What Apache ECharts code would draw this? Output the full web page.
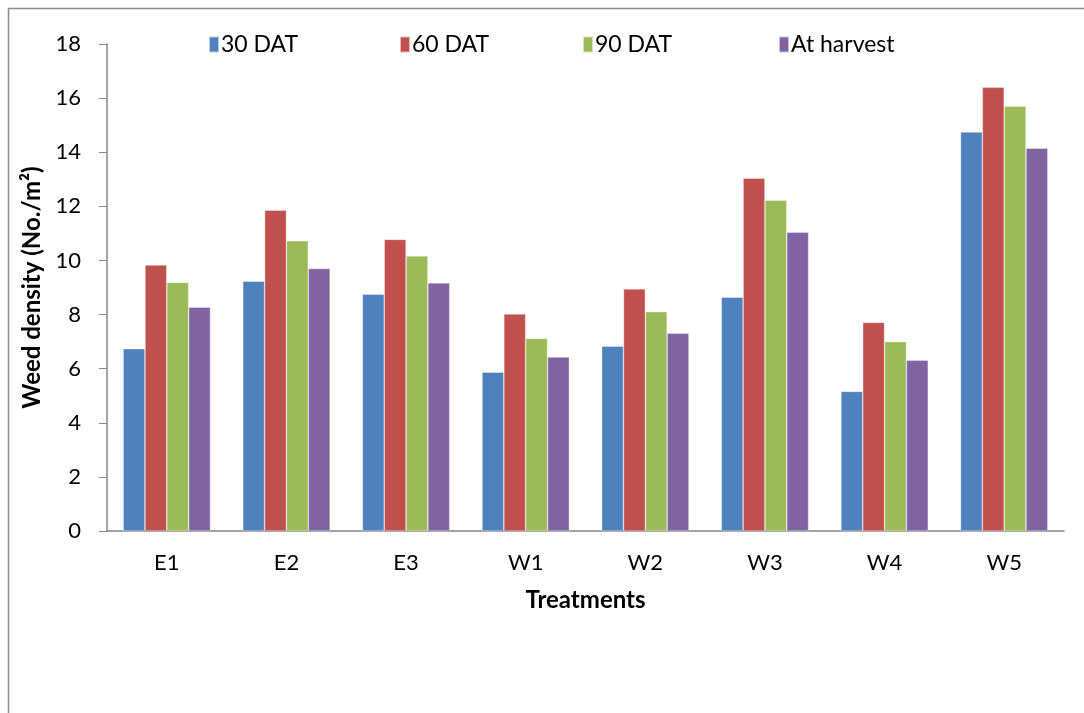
<!DOCTYPE html>
<html>
<head>
<meta charset="utf-8">
<script src="https://cdn.jsdelivr.net/npm/echarts@6/dist/echarts.min.js"></script>
<style>
  html, body { margin: 0; padding: 0; background: #fff; }
  #chart { width: 1084px; height: 713px; }
</style>
</head>
<body>
<div id="chart"></div>
<script>
// Weed density per treatment at four sampling times
const treatments = ['E1', 'E2', 'E3', 'W1', 'W2', 'W3', 'W4', 'W5'];
const dat30   = [6.74, 9.23, 8.75, 5.87, 6.83, 8.64, 5.16, 14.75];
const dat60   = [9.83, 11.86, 10.78, 8.02, 8.95, 13.04, 7.71, 16.40];
const dat90   = [9.19, 10.73, 10.17, 7.12, 8.11, 12.23, 7.00, 15.70];
const harvest = [8.27, 9.70, 9.17, 6.43, 7.31, 11.04, 6.31, 14.15];

const seriesNames = ['30 DAT', '60 DAT', '90 DAT', 'At harvest'];
const seriesValues = [dat30, dat60, dat90, harvest];
const colors = ['#4f81bd', '#c0504d', '#9bbb59', '#8064a2'];
const legendLeft = [208, 399, 582, 778];

const FONT = 'Lato';

const chart = echarts.init(document.getElementById('chart'), null, { renderer: 'canvas' });

chart.setOption({
  animation: false,
  backgroundColor: '#fff',
  color: colors,
  textStyle: { fontFamily: FONT },
  graphic: [{
    type: 'polyline',
    silent: true,
    shape: { points: [[8.5, 713], [8.5, 8.5], [1084, 8.5]] },
    style: { stroke: '#8c8c8c', lineWidth: 1.5, fill: null }
  }],
  legend: seriesNames.map((n, i) => ({
    data: [n],
    left: legendLeft[i],
    top: 33,
    itemWidth: 10,
    itemHeight: 16,
    itemGap: 0,
    padding: 0,
    selectedMode: false,
    icon: 'rect',
    textStyle: { fontFamily: FONT, fontSize: 23, color: '#000', padding: [0, 0, 0, -3] }
  })),
  grid: { left: 107, right: 20, top: 44, bottom: 182, containLabel: false },
  xAxis: {
    type: 'category',
    data: treatments,
    name: 'Treatments',
    nameLocation: 'middle',
    nameGap: 57,
    nameTextStyle: { fontFamily: FONT, fontSize: 24, fontWeight: 'bold', color: '#000' },
    axisLine: { lineStyle: { color: '#868686', width: 1.5 } },
    axisTick: { show: false },
    axisLabel: { fontFamily: FONT, fontSize: 22, color: '#000', margin: 21 }
  },
  yAxis: {
    type: 'value',
    min: 0,
    max: 18,
    interval: 2,
    name: 'Weed density (No./m\u00b2)',
    nameLocation: 'middle',
    nameGap: 59,
    nameRotate: 90,
    nameTextStyle: { fontFamily: FONT, fontSize: 24, fontWeight: 'bold', color: '#000' },
    splitLine: { show: false },
    axisLine: { show: true, lineStyle: { color: '#868686', width: 1.5 } },
    axisTick: { show: true, length: 8, lineStyle: { color: '#868686' } },
    axisLabel: { fontFamily: FONT, fontSize: 22, color: '#000', margin: 26 }
  },
  series: seriesValues.map((vals, i) => ({
    name: seriesNames[i],
    type: 'bar',
    data: vals,
    barGap: '0%',
    barCategoryGap: '27%',
    itemStyle: { color: colors[i], borderColor: 'rgba(255,255,255,0.6)', borderWidth: 0.6 }
  }))
});
</script>
</body>
</html>
